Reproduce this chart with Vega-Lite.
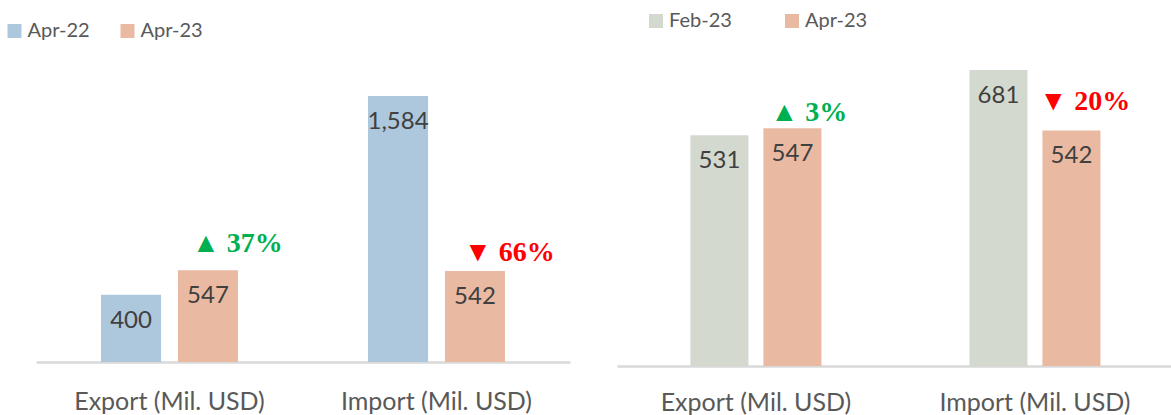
{
  "$schema": "https://vega.github.io/schema/vega-lite/v6.json",
  "background": "white",
  "padding": {"left": 4, "top": 5, "right": 0, "bottom": 0},
  "spacing": 47,
  "config": {"view": {"stroke": null}},
  "datasets": {
    "bars": [
      {"panel": "A", "category": "Export (Mil. USD)", "series": "Apr-22", "value": 400},
      {"panel": "A", "category": "Export (Mil. USD)", "series": "Apr-23", "value": 547},
      {"panel": "A", "category": "Import (Mil. USD)", "series": "Apr-22", "value": 1584},
      {"panel": "A", "category": "Import (Mil. USD)", "series": "Apr-23", "value": 542},
      {"panel": "B", "category": "Export (Mil. USD)", "series": "Feb-23", "value": 531},
      {"panel": "B", "category": "Export (Mil. USD)", "series": "Apr-23", "value": 547},
      {"panel": "B", "category": "Import (Mil. USD)", "series": "Feb-23", "value": 681},
      {"panel": "B", "category": "Import (Mil. USD)", "series": "Apr-23", "value": 542}
    ],
    "pct": [
      {"panel": "A", "category": "Export (Mil. USD)", "series": "Apr-23", "value": 547, "label": "▲ 37%"},
      {"panel": "A", "category": "Import (Mil. USD)", "series": "Apr-23", "value": 542, "label": "▼ 66%"},
      {"panel": "B", "category": "Export (Mil. USD)", "series": "Apr-23", "value": 547, "label": "▲ 3%"},
      {"panel": "B", "category": "Import (Mil. USD)", "series": "Apr-23", "value": 542, "label": "▼ 20%"}
    ]
  },
  "resolve": {"scale": {"color": "independent", "x": "independent", "y": "independent", "xOffset": "independent"}},
  "hconcat": [
    {
      "width": 534,
      "height": 357,
      "encoding": {
        "x": {
          "field": "category", "type": "nominal",
          "sort": ["Export (Mil. USD)", "Import (Mil. USD)"],
          "scale": {"paddingInner": 0.487, "paddingOuter": 0.2435},
          "axis": {"title": null, "labelAngle": 0, "ticks": false, "labelLimit": 0, "labelFont": "Lato", "labelFontSize": 25, "labelColor": "#595959", "labelPadding": 27, "domainColor": "#D9D9D9", "domainWidth": 2.5}
        },
        "xOffset": {"field": "series", "type": "nominal", "sort": ["Apr-22", "Apr-23"], "scale": {"paddingInner": 0.22, "paddingOuter": 0}},
        "y": {"field": "value", "type": "quantitative", "scale": {"domain": [0, 2126], "nice": false}, "axis": null}
      },
      "layer": [
        {
          "data": {"name": "bars"},
          "transform": [{"filter": "datum.panel === 'A'"}],
          "mark": {"type": "bar"},
          "encoding": {
            "color": {
              "field": "series", "type": "nominal",
              "scale": {"domain": ["Apr-22", "Apr-23"], "range": ["#ADC8DD", "#EAB9A2"]},
              "legend": {"title": null, "orient": "none", "direction": "horizontal", "legendX": -31.5, "legendY": 16, "symbolType": "square", "symbolSize": 196, "symbolStrokeWidth": 0, "symbolOpacity": 1, "labelFont": "Lato", "labelFontSize": 20, "labelColor": "#595959", "labelOffset": 3, "columnPadding": 27}
            }
          }
        },
        {
          "data": {"name": "bars"},
          "transform": [{"filter": "datum.panel === 'A'"}],
          "mark": {"type": "text", "dy": 33, "font": "Lato", "fontSize": 24, "color": "#404040", "align": "center", "baseline": "alphabetic"},
          "encoding": {"text": {"field": "value", "type": "quantitative", "format": ","}}
        },
        {
          "data": {"name": "pct"},
          "transform": [{"filter": "datum.panel === 'A' && datum.category === 'Export (Mil. USD)'"}],
          "mark": {"type": "text", "dx": 29.5, "dy": -18, "font": "Liberation Serif", "fontWeight": "bold", "fontSize": 28, "color": "#00B050", "align": "center", "baseline": "alphabetic"},
          "encoding": {"text": {"field": "label"}}
        },
        {
          "data": {"name": "pct"},
          "transform": [{"filter": "datum.panel === 'A' && datum.category === 'Import (Mil. USD)'"}],
          "mark": {"type": "text", "dx": 34.5, "dy": -10, "font": "Liberation Serif", "fontWeight": "bold", "fontSize": 28, "color": "#FF0000", "align": "center", "baseline": "alphabetic"},
          "encoding": {"text": {"field": "label"}}
        }
      ]
    },
    {
      "width": 554,
      "height": 361,
      "encoding": {
        "x": {
          "field": "category", "type": "nominal",
          "sort": ["Export (Mil. USD)", "Import (Mil. USD)"],
          "scale": {"paddingInner": 0.5305, "paddingOuter": 0.258, "align": 0.51},
          "axis": {"title": null, "labelAngle": 0, "ticks": false, "labelLimit": 0, "labelFont": "Lato", "labelFontSize": 25, "labelColor": "#595959", "labelPadding": 24, "domainColor": "#D9D9D9", "domainWidth": 2.5}
        },
        "xOffset": {"field": "series", "type": "nominal", "sort": ["Feb-23", "Apr-23"], "scale": {"paddingInner": 0.205, "paddingOuter": 0}},
        "y": {"field": "value", "type": "quantitative", "scale": {"domain": [0, 830.5], "nice": false}, "axis": null}
      },
      "layer": [
        {
          "data": {"name": "bars"},
          "transform": [{"filter": "datum.panel === 'B'"}],
          "mark": {"type": "bar"},
          "encoding": {
            "color": {
              "field": "series", "type": "nominal",
              "scale": {"domain": ["Feb-23", "Apr-23"], "range": ["#D4D9CF", "#EAB9A2"]},
              "legend": {"title": null, "orient": "none", "direction": "horizontal", "legendX": 29, "legendY": 6, "symbolType": "square", "symbolSize": 196, "symbolStrokeWidth": 0, "symbolOpacity": 1, "labelFont": "Lato", "labelFontSize": 20, "labelColor": "#595959", "labelOffset": 3, "columnPadding": 50}
            }
          }
        },
        {
          "data": {"name": "bars"},
          "transform": [{"filter": "datum.panel === 'B'"}],
          "mark": {"type": "text", "dy": 33, "font": "Lato", "fontSize": 24, "color": "#404040", "align": "center", "baseline": "alphabetic"},
          "encoding": {"text": {"field": "value", "type": "quantitative", "format": ","}}
        },
        {
          "data": {"name": "pct"},
          "transform": [{"filter": "datum.panel === 'B' && datum.category === 'Export (Mil. USD)'"}],
          "mark": {"type": "text", "dx": 16.5, "dy": -7, "font": "Liberation Serif", "fontWeight": "bold", "fontSize": 28, "color": "#00B050", "align": "center", "baseline": "alphabetic"},
          "encoding": {"text": {"field": "label"}}
        },
        {
          "data": {"name": "pct"},
          "transform": [{"filter": "datum.panel === 'B' && datum.category === 'Import (Mil. USD)'"}],
          "mark": {"type": "text", "dx": 13.5, "dy": -20, "font": "Liberation Serif", "fontWeight": "bold", "fontSize": 28, "color": "#FF0000", "align": "center", "baseline": "alphabetic"},
          "encoding": {"text": {"field": "label"}}
        }
      ]
    }
  ]
}
